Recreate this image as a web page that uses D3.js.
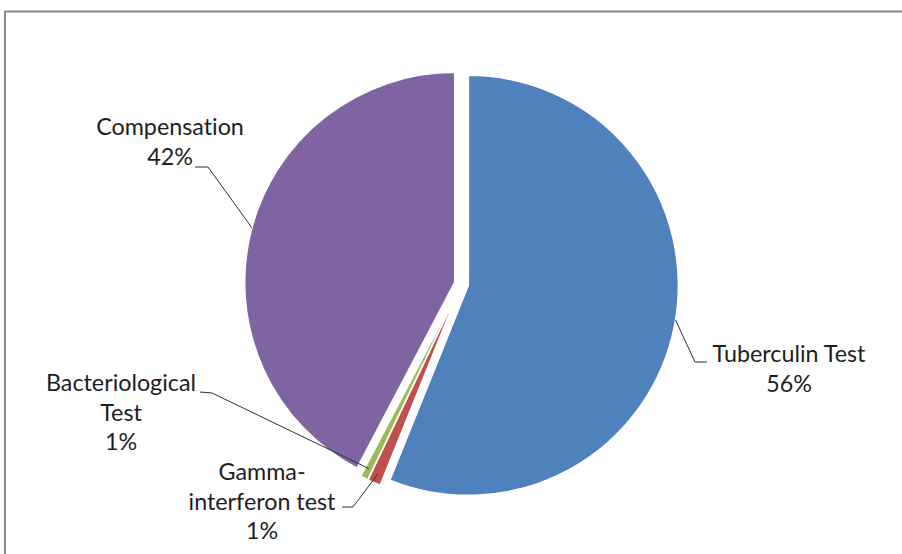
<!DOCTYPE html>
<html><head><meta charset="utf-8">
<script src="https://cdn.jsdelivr.net/npm/d3@7"></script>
<style>body{margin:0;background:#fff;}svg{display:block;}text{font-variant-ligatures:none;font-feature-settings:"liga" 0;}</style>
</head><body>
<svg id="chart" width="902" height="554"></svg>
<script>
const categories = ["Tuberculin Test", "Gamma-interferon test", "Bacteriological Test", "Compensation"];
const values = [56.1, 1.0, 0.6, 42.3];
const percentLabels = ["56%", "1%", "1%", "42%"];
const colors = ["#4F81BD", "#C0504D", "#9BBB59", "#8064A2"];

// label layout: lines, center x, first baseline, elbow, line end, radius fraction for leader start
const labelLayout = [
  {lines:["Tuberculin Test","56%"], x:789, y:362, elbow:[695,362], end:[707,362], rf:1.0, da:-1.5},
  {lines:["Gamma-","interferon test","1%"], x:262, y:480, elbow:[353,507], end:[342,507], rf:0.955, da:0},
  {lines:["Bacteriological","Test","1%"], x:121, y:391, elbow:[212,393], end:[200,392], rf:0.95, da:0},
  {lines:["Compensation","42%"], x:170, y:135, elbow:[208,167], end:[195,167], rf:1.0, da:1.2}
];

const svg = d3.select("#chart");
const cx = 461.5, cy = 284, r = 210, explode = 7;

svg.append("rect").attr("x",5).attr("y",11.5).attr("width",1000).attr("height",1000)
  .attr("fill","none").attr("stroke","#8a8a8a").attr("stroke-width",2);

const pie = d3.pie().sort(null).value(d=>d)(values);
const arc = d3.arc().innerRadius(0).outerRadius(r);
const g = svg.append("g").attr("transform",`translate(${cx},${cy})`);

pie.forEach((p,i)=>{
  const mid = (p.startAngle+p.endAngle)/2;
  const ox = explode*Math.sin(mid), oy = -explode*Math.cos(mid);
  g.append("path").attr("d",arc(p)).attr("transform",`translate(${ox},${oy})`)
    .attr("fill",colors[i]).attr("stroke","#fff").attr("stroke-width",1.5);
  const L = labelLayout[i];
  const a = mid + L.da*Math.PI/180;
  const sx = cx+ox + L.rf*r*Math.sin(a), sy = cy+oy - L.rf*r*Math.cos(a);
  svg.append("polyline").attr("points",[[sx,sy],L.elbow,L.end].map(q=>q.join(",")).join(" "))
    .attr("fill","none").attr("stroke","#303030").attr("stroke-width",1);
  const t = svg.append("text").attr("text-anchor","middle")
    .attr("font-family","Lato, 'Open Sans', sans-serif").attr("font-size",23.3).attr("fill","#1e1e1e");
  L.lines.forEach((ln,k)=>{
    t.append("tspan").attr("x",L.x).attr("y",L.y + k*29.5).text(ln);
  });
});
</script>
</body></html>
